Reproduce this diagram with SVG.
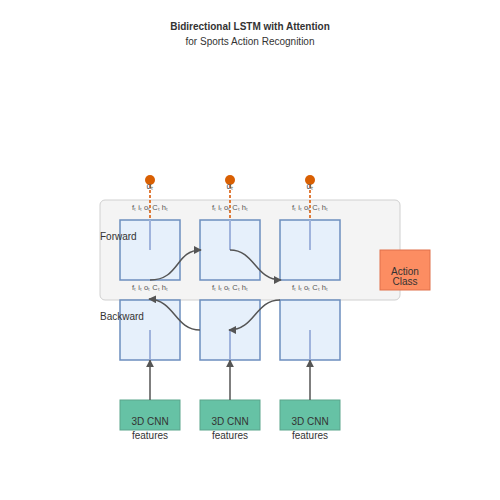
<svg xmlns="http://www.w3.org/2000/svg" width="500" height="500" viewBox="0 0 500 500">
<defs>
<marker id="arr" viewBox="0 0 10 10" refX="9" refY="5" markerWidth="8" markerHeight="8" markerUnits="userSpaceOnUse" orient="auto">
<path d="M0,0 L10,5 L0,10 z" fill="#555"/>
</marker>
<style>
text{font-family:"Liberation Sans",Arial,sans-serif;fill:#333}
.title{font-size:10px;font-weight:bold;text-anchor:middle}
.sub{font-size:10px;text-anchor:middle}
.cell{fill:#e6f0fb;stroke:#6c8ebf;stroke-width:1.5}
.inner{stroke:#9fb3dc;stroke-width:2}
.gate{font-size:7.5px;text-anchor:middle;fill:#555}
.alpha{font-size:8.5px;text-anchor:middle;fill:#555}
.side{font-size:10px}
.cnn{fill:#66c2a5;stroke:#5aa58c;stroke-width:1}
.lbl{font-size:10px;text-anchor:middle}
.conn{fill:none;stroke:#555;stroke-width:1.5}
.att{stroke:#e07b39;stroke-width:2;stroke-dasharray:3,2}
.dot{fill:#d95f02}
</style>
</defs>
<rect width="500" height="500" fill="#fff"/>
<text class="title" x="250" y="30">Bidirectional LSTM with Attention</text>
<text class="sub" x="250" y="45">for Sports Action Recognition</text>

<rect id="panel" x="100" y="200" width="300" height="100" rx="5" fill="#f4f4f4" stroke="#d0d0d0" stroke-width="1"/>

<g id="attention">
<line class="att" x1="150" y1="180" x2="150" y2="250"/>
<line class="att" x1="230" y1="180" x2="230" y2="250"/>
<line class="att" x1="310" y1="180" x2="310" y2="250"/>
<circle class="dot" cx="150" cy="180" r="5"/>
<circle class="dot" cx="230" cy="180" r="5"/>
<circle class="dot" cx="310" cy="180" r="5"/>
<text class="alpha" x="150" y="189">αₜ</text>
<text class="alpha" x="230" y="189">αₜ</text>
<text class="alpha" x="310" y="189">αₜ</text>
</g>

<g id="fwd1"><rect class="cell" x="120" y="220" width="60" height="60"/><line class="inner" x1="150" y1="220" x2="150" y2="250"/><text class="gate" x="150" y="210">fₜ iₜ oₜ Cₜ hₜ</text></g>
<g id="fwd2"><rect class="cell" x="200" y="220" width="60" height="60"/><line class="inner" x1="230" y1="220" x2="230" y2="250"/><text class="gate" x="230" y="210">fₜ iₜ oₜ Cₜ hₜ</text></g>
<g id="fwd3"><rect class="cell" x="280" y="220" width="60" height="60"/><line class="inner" x1="310" y1="220" x2="310" y2="250"/><text class="gate" x="310" y="210">fₜ iₜ oₜ Cₜ hₜ</text></g>

<g id="bwd1"><rect class="cell" x="120" y="300" width="60" height="60"/><line class="inner" x1="150" y1="330" x2="150" y2="360"/><text class="gate" x="150" y="290">fₜ iₜ oₜ Cₜ hₜ</text></g>
<g id="bwd2"><rect class="cell" x="200" y="300" width="60" height="60"/><line class="inner" x1="230" y1="330" x2="230" y2="360"/><text class="gate" x="230" y="290">fₜ iₜ oₜ Cₜ hₜ</text></g>
<g id="bwd3"><rect class="cell" x="280" y="300" width="60" height="60"/><line class="inner" x1="310" y1="330" x2="310" y2="360"/><text class="gate" x="310" y="290">fₜ iₜ oₜ Cₜ hₜ</text></g>

<text class="side" x="100" y="240">Forward</text>
<text class="side" x="100" y="320">Backward</text>

<g id="action"><rect x="380" y="250" width="50" height="40" fill="#fc8d62" stroke="#e0704a" stroke-width="1"/><text class="lbl" x="405" y="275">Action</text><text class="lbl" x="405" y="285">Class</text></g>

<g id="cnn1"><rect class="cnn" x="120" y="400" width="60" height="30"/><text class="lbl" x="150" y="425">3D CNN</text><text class="lbl" x="150" y="439">features</text></g>
<g id="cnn2"><rect class="cnn" x="200" y="400" width="60" height="30"/><text class="lbl" x="230" y="425">3D CNN</text><text class="lbl" x="230" y="439">features</text></g>
<g id="cnn3"><rect class="cnn" x="280" y="400" width="60" height="30"/><text class="lbl" x="310" y="425">3D CNN</text><text class="lbl" x="310" y="439">features</text></g>

<g id="connectors">
<path class="conn" d="M150,280 C180,280 175,250 201,250" marker-end="url(#arr)"/>
<path class="conn" d="M230,250 C255,250 255,280 281,280" marker-end="url(#arr)"/>
<path class="conn" d="M280,300 C255,300 255,330 229,330" marker-end="url(#arr)"/>
<path class="conn" d="M200,330 C175,330 175,300 149,299" marker-end="url(#arr)"/>
<line class="conn" x1="150" y1="400" x2="150" y2="360" marker-end="url(#arr)"/>
<line class="conn" x1="230" y1="400" x2="230" y2="360" marker-end="url(#arr)"/>
<line class="conn" x1="310" y1="400" x2="310" y2="360" marker-end="url(#arr)"/>
</g>
</svg>
